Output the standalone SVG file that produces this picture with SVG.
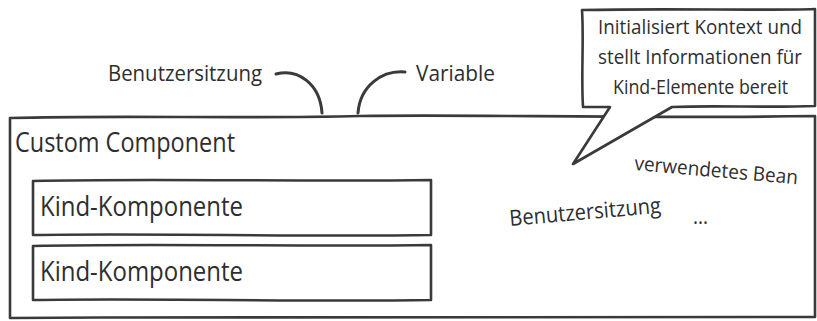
<svg xmlns="http://www.w3.org/2000/svg" width="817" height="321" viewBox="0 0 817 321">
  <style>
    .box { fill: #ffffff; stroke: #3a3a3a; stroke-width: 2.6; stroke-linejoin: round; }
    .conn { fill: none; stroke: #3a3a3a; stroke-width: 3; stroke-linecap: round; }
    .t { font-family: "Open Sans", "Liberation Sans", sans-serif; fill: #2e2e2e; }
    .big { font-size: 27px; }
    .mid { font-size: 22px; }
    .sm { font-size: 19.5px; }
  </style>
  <rect x="0" y="0" width="817" height="321" fill="#ffffff"/>

  <g id="custom-component">
    <path class="box" d="M10,118 C120,115 240,119 360,116 C480,114 620,119 815,116 L815,317 C600,319 300,316 10,318 Z"/>
    <text class="t big" x="15" y="152" textLength="220" lengthAdjust="spacingAndGlyphs">Custom Component</text>
    <text class="t mid" x="510" y="226" transform="rotate(-5 510 226)" textLength="152" lengthAdjust="spacingAndGlyphs">Benutzersitzung</text>
    <text class="t" font-size="20" x="634" y="170" transform="rotate(5 634 170)" textLength="164" lengthAdjust="spacingAndGlyphs">verwendetes Bean</text>
    <text class="t mid" x="693" y="224" textLength="15" lengthAdjust="spacingAndGlyphs">...</text>
  </g>

  <g id="kind-1">
    <path class="box" d="M33,181 C150,178 300,182 431,180 L431,235 C300,237 150,233 33,235 Z"/>
    <text class="t big" x="40" y="216" textLength="203" lengthAdjust="spacingAndGlyphs">Kind-Komponente</text>
  </g>

  <g id="kind-2">
    <path class="box" d="M33,246 C150,243 300,247 431,245 L431,300 C300,302 150,298 33,300 Z"/>
    <text class="t big" x="40" y="281" textLength="203" lengthAdjust="spacingAndGlyphs">Kind-Komponente</text>
  </g>

  <g id="callout">
    <path class="box" d="M582,10 C680,8 760,11 815,9 L815,106 C760,108 720,105 672,107 L573,164 L610,107 L583,107 C581,75 584,40 582,10 Z"/>
    <text class="t sm" x="598" y="34" textLength="204" lengthAdjust="spacingAndGlyphs">Initialisiert Kontext und</text>
    <text class="t sm" x="598" y="64" textLength="204" lengthAdjust="spacingAndGlyphs">stellt Informationen für</text>
    <text class="t sm" x="613" y="94" textLength="175" lengthAdjust="spacingAndGlyphs">Kind-Elemente bereit</text>
  </g>

  <g id="label-benutzersitzung">
    <text class="t mid" x="108" y="81" textLength="154" lengthAdjust="spacingAndGlyphs">Benutzersitzung</text>
  </g>
  <g id="label-variable">
    <text class="t mid" x="416" y="81" textLength="79" lengthAdjust="spacingAndGlyphs">Variable</text>
  </g>

  <g id="connectors">
    <path class="conn" d="M276,74 C298,68 320,84 322,113"/>
    <path class="conn" d="M405,72 C382,70 360,86 358,113"/>
  </g>
</svg>
